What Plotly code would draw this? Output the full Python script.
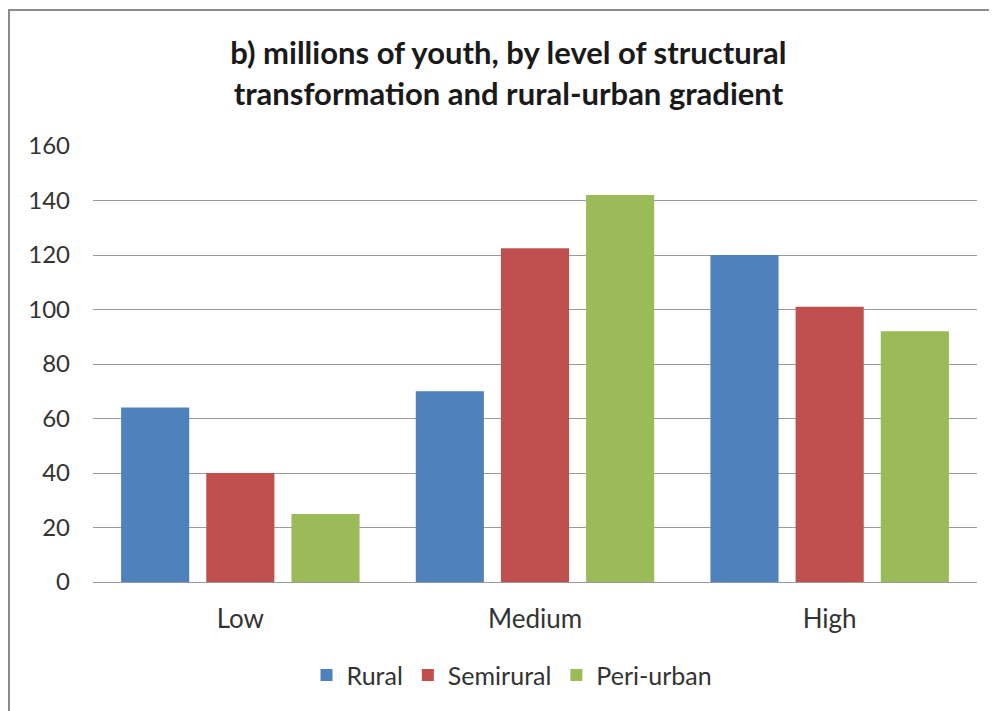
import plotly.graph_objects as go

categories = ["Low", "Medium", "High"]
rural = [64, 70, 120]
semirural = [40, 122.5, 101]
periurban = [25, 142, 92]
series_names = ["Rural", "Semirural", "Peri-urban"]
colors = ["#4F81BD", "#C0504D", "#9BBB59"]
y_ticks = [0, 20, 40, 60, 80, 100, 120, 140, 160]

FONT = "Lato"

fig = go.Figure()
for name, vals, col in zip(series_names, [rural, semirural, periurban], colors):
    fig.add_trace(go.Bar(name=name, x=categories, y=vals, marker=dict(color=col, line=dict(width=0))))

# page body has an 8px margin, so the figure is sized to fit the window
W, H = 989, 703
L, R, T, B = 85, 20, 138, 129
pw, ph = W - L - R, H - T - B

fig.update_layout(
    width=W, height=H,
    margin=dict(l=L, r=R, t=T, b=B, pad=0),
    paper_bgcolor="white", plot_bgcolor="white",
    barmode="group", bargap=0.133, bargroupgap=0.2,
    font=dict(family=FONT, color="#262626", size=24),
    title=dict(
        text="<b>b) millions of youth, by level of structural<br>transformation and rural-urban gradient</b>",
        x=0.506, xanchor="center", y=0.92, yanchor="middle",
        font=dict(family=FONT, size=31, color="#1a1a1a"),
    ),
    xaxis=dict(showgrid=False, showline=False, ticks="", tickfont=dict(size=26, color="#333"),
               ticklabelstandoff=19),
    yaxis=dict(range=[0, 160], tickvals=y_ticks, showgrid=True, gridcolor="#9a9a9a", gridwidth=1.2,
               zeroline=True, zerolinecolor="#9a9a9a", zerolinewidth=1.2,
               showline=False, ticks="", tickfont=dict(size=24, color="#333"), ticklabelstandoff=22),
    legend=dict(orientation="h", x=0.474, xanchor="center", y=-0.214, yanchor="middle",
                font=dict(size=25, color="#333"), traceorder="normal", itemwidth=30),
    showlegend=True,
)

# outer chart border (left and top visible)
fig.add_shape(type="rect", xref="paper", yref="paper",
              x0=(1 - L) / pw, x1=(W + 10 - L) / pw,
              y0=-(H + 10 - (H - B)) / ph, y1=(H - B - 2) / ph,
              line=dict(color="#8c8c8c", width=2), fillcolor="rgba(0,0,0,0)", layer="below")

fig.write_html("out.html")
